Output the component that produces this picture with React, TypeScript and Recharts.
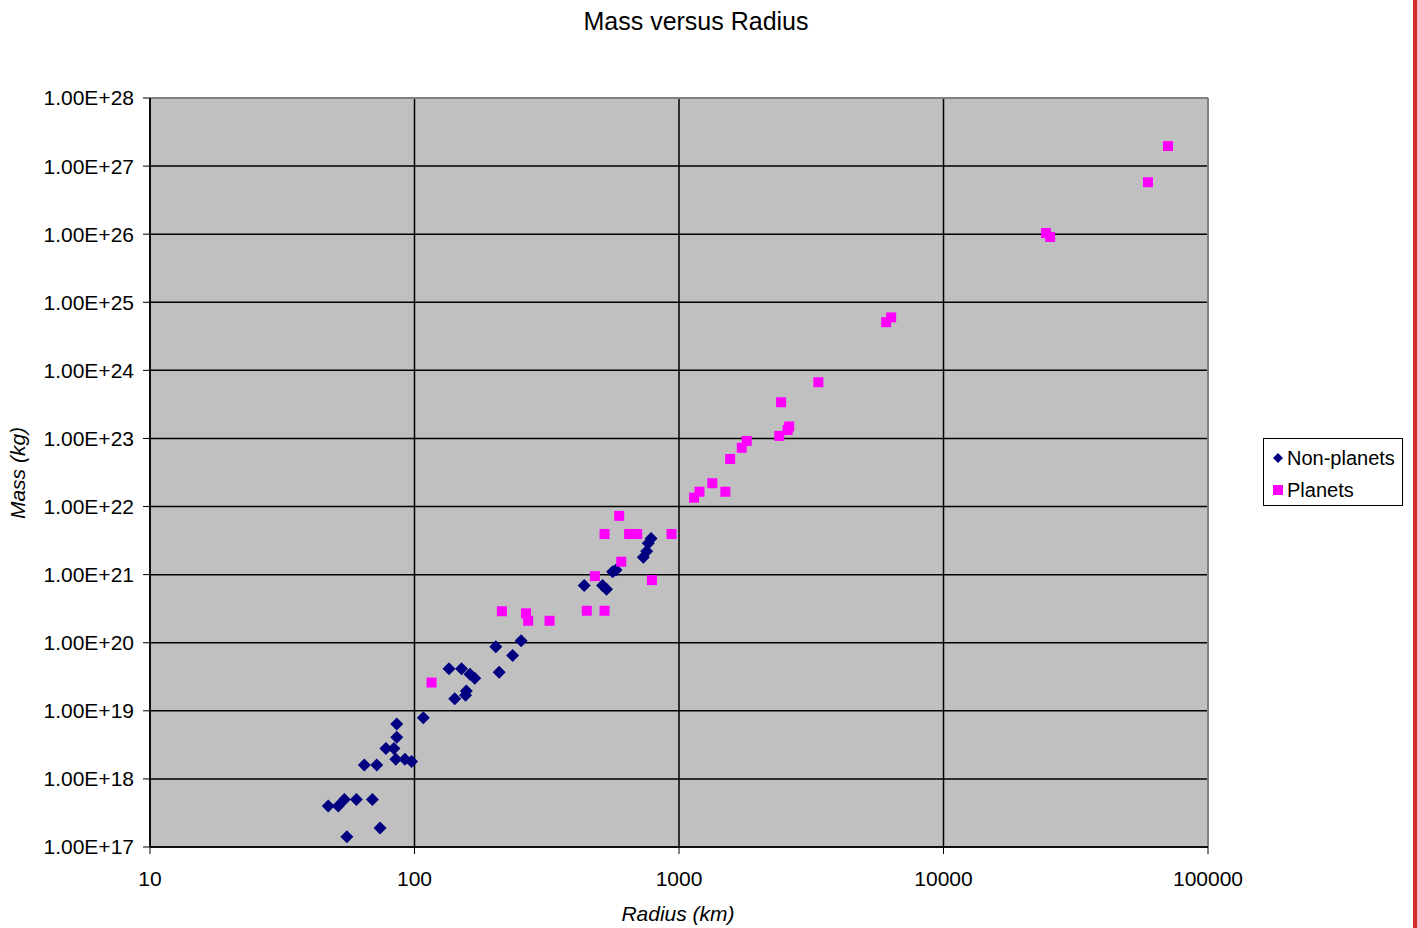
import {
  ScatterChart, Scatter, XAxis, YAxis, CartesianGrid, ReferenceLine
} from 'recharts'

// radius (km) / mass (kg)
const nonPlanetRadius = [
  108, 85.7, 85.7, 78, 83.6, 85, 92, 97.5, 64.6, 72,
  47.2, 51.5, 54.3, 60.3, 69.3, 74.1, 55.5,
  253, 203, 235, 209, 135, 150.6, 162, 169, 142, 156, 157,
  438, 514, 532, 561, 578, 733, 755, 765, 784,
]
const nonPlanetMass = [
  7.9e18, 6.4e18, 4.1e18, 2.8e18, 2.8e18, 1.95e18, 1.95e18, 1.8e18, 1.6e18, 1.6e18,
  4.0e17, 4.0e17, 5.0e17, 5.0e17, 5.0e17, 1.9e17, 1.42e17,
  1.07e20, 8.7e19, 6.5e19, 3.7e19, 4.15e19, 4.15e19, 3.45e19, 3.0e19, 1.5e19, 1.7e19, 1.95e19,
  6.9e20, 6.9e20, 6.1e20, 1.1e21, 1.17e21, 1.8e21, 2.2e21, 2.9e21, 3.4e21,
]

const planetRadius = [
  116, 214, 264, 269, 324, 448, 523, 481, 605, 790,
  523, 648, 695, 937, 594,
  1140, 1195, 1336, 1497, 1561, 1727, 1803,
  2393, 2575, 2610, 2432, 3365,
  6070, 6340, 24400, 25300, 59300, 70600,
]
const planetMass = [
  2.6e19, 2.9e20, 2.7e20, 2.1e20, 2.1e20, 2.95e20, 2.95e20, 9.5e20, 1.55e21, 8.3e20,
  3.95e21, 3.95e21, 3.95e21, 3.95e21, 7.3e21,
  1.35e22, 1.65e22, 2.2e22, 1.65e22, 5.0e22, 7.3e22, 9.2e22,
  1.09e23, 1.33e23, 1.5e23, 3.4e23, 6.7e23,
  5.1e24, 6.0e24, 1.04e26, 9.1e25, 5.8e26, 1.97e27,
]

const xTicks = [10, 100, 1000, 10000, 100000]
const yTicks = [1e17, 1e18, 1e19, 1e20, 1e21, 1e22, 1e23, 1e24, 1e25, 1e26, 1e27, 1e28]

const nonPlanets = nonPlanetRadius.map((r, i) => ({ r, m: nonPlanetMass[i] }))
const planets = planetRadius.map((r, i) => ({ r, m: planetMass[i] }))

const NAVY = '#000080'
const MAGENTA = '#ff00ff'
const FONT = '"Liberation Sans", Arial, sans-serif'

// eslint-disable-next-line @typescript-eslint/no-explicit-any
const Diamond = (props: any) => {
  const { cx, cy } = props
  const h = 6.5
  return (
    <path
      d={`M${cx},${cy - h} L${cx + h},${cy} L${cx},${cy + h} L${cx - h},${cy} Z`}
      fill={NAVY}
    />
  )
}

// eslint-disable-next-line @typescript-eslint/no-explicit-any
const Square = (props: any) => {
  const { cx, cy } = props
  return <rect x={cx - 5} y={cy - 5} width={10} height={10} fill={MAGENTA} />
}

const LegendBox = () => (
  <div
    style={{
      position: 'absolute', left: 1263, top: 438,
      border: '1px solid #000',
      background: '#fff',
      width: 140,
      height: 68,
      boxSizing: 'border-box',
      fontFamily: FONT,
      fontSize: 20,
      color: '#000',
      paddingLeft: 8,
      paddingTop: 3,
      lineHeight: '32px',
    }}
  >
    <div style={{ display: 'flex', alignItems: 'center' }}>
      <svg width={12} height={12} style={{ marginRight: 3 }}>
        <path d="M6,1 L11,6 L6,11 L1,6 Z" fill={NAVY} />
      </svg>
      Non-planets
    </div>
    <div style={{ display: 'flex', alignItems: 'center' }}>
      <svg width={12} height={12} style={{ marginRight: 3 }}>
        <rect x={1} y={1} width={10} height={10} fill={MAGENTA} />
      </svg>
      Planets
    </div>
  </div>
)

export default function App() {
  return (
    <div
      style={{
        position: 'absolute', left: 0, top: 0, width: 1417, height: 928,
        background: '#fff', overflow: 'hidden', fontFamily: FONT,
      }}
    >
      <ScatterChart
        width={1417}
        height={928}
        margin={{ top: 98, right: 209, bottom: 31, left: 10 }}
        style={{ position: 'absolute', left: 0, top: 0 }}
      >
        <CartesianGrid stroke="#000" strokeWidth={1.5} fill="#c0c0c0" fillOpacity={1} />
        <XAxis
          dataKey="r"
          type="number"
          scale="log"
          domain={[10, 100000]}
          ticks={xTicks}
          allowDataOverflow
          height={50}
          tickSize={7}
          tickMargin={17}
          axisLine={{ stroke: '#000', strokeWidth: 1.5 }}
          tickLine={{ stroke: '#000' }}
          tick={{ fill: '#000', fontSize: 21, fontFamily: FONT }}
        />
        <YAxis
          dataKey="m"
          type="number"
          scale="log"
          domain={[1e17, 1e28]}
          ticks={yTicks}
          allowDataOverflow
          width={140}
          tickSize={7}
          tickMargin={9}
          tickFormatter={(v: number) => v.toExponential(2).toUpperCase()}
          axisLine={{ stroke: '#000', strokeWidth: 1.5 }}
          tickLine={{ stroke: '#000' }}
          tick={{ fill: '#000', fontSize: 21, fontFamily: FONT }}
        />
        <ReferenceLine y={1e28} stroke="#808080" strokeWidth={2} />
        <ReferenceLine x={100000} stroke="#808080" strokeWidth={2} />
        <Scatter name="Non-planets" data={nonPlanets} shape={Diamond} isAnimationActive={false} />
        <Scatter name="Planets" data={planets} shape={Square} isAnimationActive={false} />
      </ScatterChart>

      <div
        style={{
          position: 'absolute', left: 0, width: 1392, top: 7, textAlign: 'center',
          fontSize: 25, color: '#000',
        }}
      >
        Mass versus Radius
      </div>
      <div
        style={{
          position: 'absolute', left: 18, top: 473, fontSize: 21, fontStyle: 'italic',
          transform: 'translate(-50%, -50%) rotate(-90deg)', whiteSpace: 'nowrap', color: '#000',
        }}
      >
        Mass (kg)
      </div>
      <div
        style={{
          position: 'absolute', left: 678, top: 914, fontSize: 21, fontStyle: 'italic',
          transform: 'translate(-50%, -50%)', whiteSpace: 'nowrap', color: '#000',
        }}
      >
        Radius (km)
      </div>
      <LegendBox />

      <div
        style={{
          position: 'absolute', left: 1413, top: 0, width: 4, height: 928, background: '#d42a2a',
        }}
      />
    </div>
  )
}
